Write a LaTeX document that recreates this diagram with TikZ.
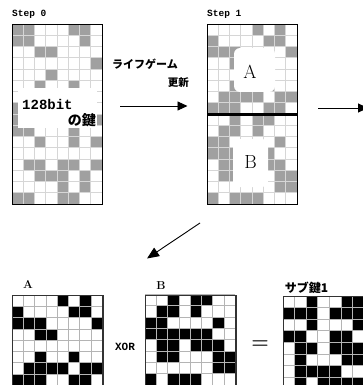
\documentclass[tikz,border=0pt]{standalone}
\usepackage{fontspec}
\usetikzlibrary{arrows.meta}
\newfontfamily\latinmono{Liberation Mono}
\newfontfamily\jpfont{Noto Sans CJK JP}

\definecolor{cellgray}{HTML}{A0A0A0}
\definecolor{linelight}{HTML}{D6D6D6}
\definecolor{linemid}{HTML}{B4B4B4}

% filled cells: x0, y0, cell size, style, list of row/col
\newcommand\fillcells[5]{%
  \foreach \r/\c in {#5} {\fill[#4] ({#1+\c*#3},{#2+\r*#3}) rectangle ++(#3,#3);}%
}
% inner grid lines: x0, y0, cell size, columns, rows, style
\newcommand\cellgrid[6]{%
  \foreach \k in {0,...,#4} {\draw[#6] ({#1+\k*#3},#2) -- ++(0,{#5*#3});}%
  \foreach \k in {0,...,#5} {\draw[#6] (#1,{#2+\k*#3}) -- ++({#4*#3},0);}%
}

\begin{document}
\begin{tikzpicture}[x=1pt,y=-1pt,
  gridframe/.style={draw=black, line width=1.4pt, inner sep=0pt, anchor=north west},
  steplabel/.style={font=\latinmono\bfseries\fontsize{9.5}{10}\selectfont, inner sep=0pt, anchor=base west},
  jplabel/.style={font=\jpfont\bfseries\fontsize{10.5}{11}\selectfont, inner sep=0pt},
  biglabel/.style={font=\fontsize{19}{20}\selectfont, inner sep=0pt},
  boxlabel/.style={font=\bfseries\fontsize{11.5}{12}\selectfont, inner sep=0pt},
  flow/.style={line width=0.9pt, -{Triangle[length=10pt,width=9pt]}},
]
\useasboundingbox (0,0) rectangle (363,385);

% ---------- Step 0: 128-bit key (8 x 16) ----------
\fillcells{12}{24}{11.25}{cellgray}{0/0,0/1,0/5,0/6,1/0,1/1,1/6,2/2,2/3,3/7,4/3,5/2,5/5,7/0,8/0,8/7,9/0,9/1,9/5,10/2,10/5,10/7,12/1,12/2,12/4,12/5,12/7,13/2,13/3,13/4,13/6,14/4,14/6,15/0,15/1,15/4,15/5}
\cellgrid{12}{24}{11.25}{8}{16}{linelight, line width=0.7pt}
\node[fill=white, inner sep=0pt, minimum width=79pt, minimum height=40pt, anchor=north west] (keybox) at (18,88) {};
\node[font=\latinmono\bfseries\fontsize{14}{15}\selectfont, inner sep=0pt, anchor=west] (bits) at (22,104.5) {128bit};
\node[font=\jpfont\bfseries\fontsize{14}{15}\selectfont, inner sep=0pt, anchor=east] (kagi) at (96,120) {の鍵};
\node[gridframe, minimum width=90pt, minimum height=180pt] (step0) at (12,24) {};
\node[steplabel] (step0title) at (12,16.5) {Step 0};

% ---------- Step 1: after the life-game update ----------
\fillcells{207}{24}{11.25}{cellgray}{0/4,0/6,1/0,1/5,1/6,2/0,2/1,2/2,2/7,3/2,3/3,5/2,5/5,6/1,6/2,6/3,6/4,6/6,6/7,7/0,7/1,7/2,7/5,7/6}
\fillcells{207}{114}{11.25}{cellgray}{0/2,0/4,0/5,1/1,1/2,1/4,2/0,2/1,2/6,3/0,3/1,3/2,3/3,3/4,3/5,4/1,4/2,4/4,4/5,4/6,5/1,5/2,5/6,5/7,6/6,6/7,7/0,7/2,7/3,7/4}
\cellgrid{207}{24}{11.25}{8}{16}{linelight, line width=0.7pt}
\fill[white, rounded corners=6pt] (234,48) rectangle (275,92);
\fill[white, rounded corners=6pt] (233,139) rectangle (268,187);
\node[biglabel] (halfA) at (250,71.5) {A};
\node[biglabel] (halfB) at (250.5,162.5) {B};
\node[gridframe, minimum width=90pt, minimum height=180pt] (step1) at (207,24) {};
\draw[line width=3pt] (step1.west) -- (step1.east);
\node[steplabel] (step1title) at (207,16.5) {Step 1};

% ---------- update arrow ----------
\node[jplabel, font=\jpfont\bfseries\fontsize{11}{12}\selectfont, anchor=west] (lifegame) at (112,64) {ライフゲーム};
\node[jplabel, anchor=east] (koushin) at (189,83) {更新};
\coordinate (updfrom) at (120,106);
\coordinate (updto) at (187.5,106);
\draw[flow] (updfrom) -- (updto);

% arrow leaving Step 1 to the right
\coordinate (nextfrom) at (318,108);
\coordinate (nextto) at (368,108);
\draw[flow] (nextfrom) -- (nextto);

% arrow down to the XOR row
\coordinate (splitfrom) at (200,223);
\coordinate (splitto) at (147,258.5);
\draw[flow, -{Triangle[length=12pt,width=10pt]}] (splitfrom) -- (splitto);

% ---------- A XOR B = sub-key 1 ----------
\fillcells{12}{295}{11.3}{black}{0/4,0/6,1/0,1/5,1/6,2/0,2/1,2/2,2/7,3/2,3/3,5/2,5/5,6/1,6/2,6/3,6/4,6/6,6/7,7/0,7/1,7/2,7/5,7/6}
\cellgrid{12}{295}{11.3}{8}{8}{linemid, line width=0.7pt}
\node[gridframe, draw=black!80, minimum width=90.4pt, minimum height=90.4pt] (gridA) at (12,295) {};
\node[boxlabel] (labelA) at (28,284) {A};

\fillcells{145}{294.5}{11.3}{black}{0/2,0/4,0/5,1/1,1/2,1/4,2/0,2/1,2/6,3/0,3/1,3/2,3/3,3/4,3/5,4/1,4/2,4/4,4/5,4/6,5/1,5/2,5/6,5/7,6/6,6/7,7/0,7/2,7/3,7/4}
\cellgrid{145}{294.5}{11.3}{8}{8}{linemid, line width=0.7pt}
\node[gridframe, draw=black!80, minimum width=90.4pt, minimum height=90.4pt] (gridB) at (145,294.5) {};
\node[boxlabel] (labelB) at (161,286) {B};

\node[font=\latinmono\bfseries\fontsize{11}{12}\selectfont, inner sep=0pt] (xorsign) at (125,347) {XOR};
\node[font=\bfseries\fontsize{20}{21}\selectfont, inner sep=0pt] (eqsign) at (260,345) {=};

\fillcells{283}{296}{11.6}{black}{0/2,0/5,0/6,1/0,1/1,1/2,1/4,1/5,1/6,2/2,2/6,2/7,3/0,3/1,3/4,3/5,4/1,4/2,4/4,4/5,4/6,5/1,5/5,5/6,5/7,6/1,6/2,6/3,6/4,7/1,7/3,7/4,7/5,7/6}
\cellgrid{283}{296}{11.6}{8}{8}{linemid, line width=0.7pt}
\node[gridframe, draw=black!80, minimum width=92.8pt, minimum height=92.8pt] (gridSub) at (283,296) {};
\node[jplabel, font=\jpfont\bfseries\fontsize{12}{13}\selectfont] (sublabel) at (306.5,287.5) {サブ鍵1};
\end{tikzpicture}
\end{document}
